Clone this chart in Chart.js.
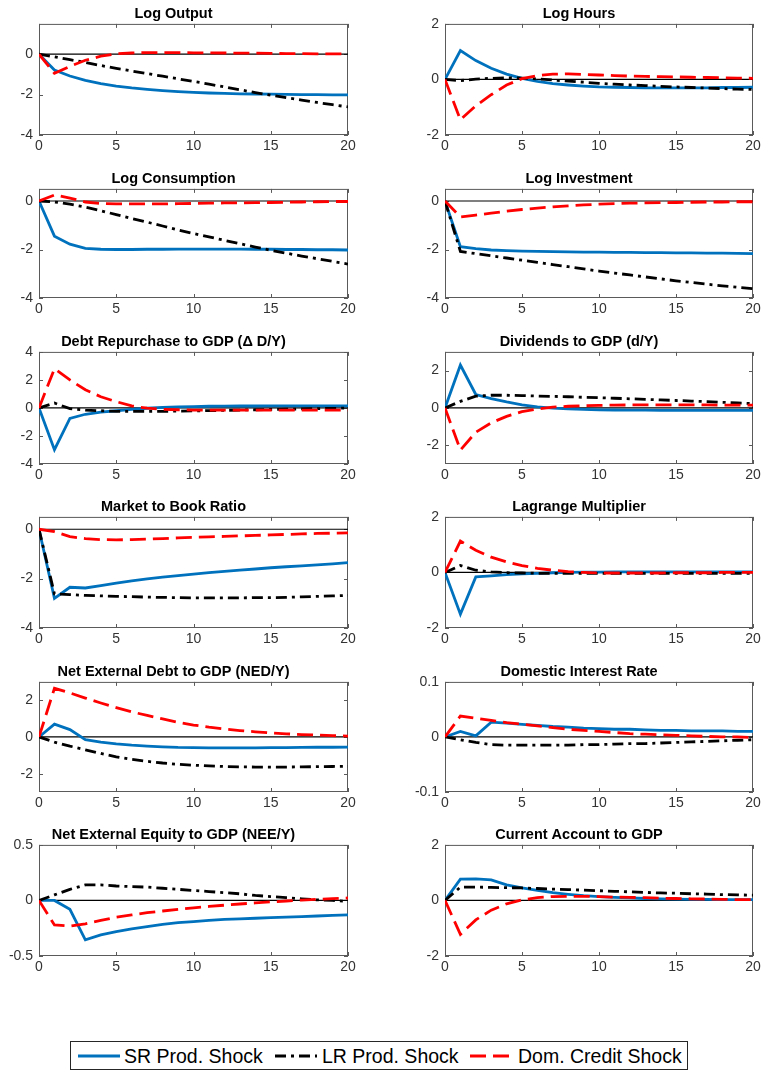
<!DOCTYPE html>
<html>
<head>
<meta charset="utf-8">
<title>Impulse responses</title>
<script src="https://cdn.jsdelivr.net/npm/chart.js@4.4.0/dist/chart.umd.min.js"></script>
<style>
  body { margin: 0; background: #fff; width: 762px; height: 1070px; position: relative; overflow: hidden;
         font-family: "Liberation Sans", Arial, sans-serif; }
  .panel { position: absolute; }
  #legend { position: absolute; left: 70px; top: 1041px; width: 618px; height: 29px;
            border: 1px solid #262626; box-sizing: border-box; background: #fff; }
  #legend span { position: absolute; top: 3px; font-size: 19.5px; line-height: 22px; color: #000; white-space: nowrap; }
  #legend svg { position: absolute; top: 0; }
</style>
</head>
<body>
<div id="legend"></div>
<script>
// horizon (quarters after the shock)
const horizon = [0, 1, 2, 3, 4, 5, 6, 7, 8, 9, 10, 11, 12, 13, 14, 15, 16, 17, 18, 19, 20];
const xTicks = [0, 5, 10, 15, 20];
const zeroLine = [0, 0, 0, 0, 0, 0, 0, 0, 0, 0, 0, 0, 0, 0, 0, 0, 0, 0, 0, 0, 0];

// Log Output
const outputSR = [0, -0.78, -1.08, -1.3, -1.46, -1.58, -1.67, -1.74, -1.8, -1.85, -1.89, -1.92, -1.94, -1.96, -1.97, -1.98, -1.99, -2.0, -2.0, -2.01, -2.01];
const outputLR = [0, -0.13, -0.27, -0.41, -0.56, -0.7, -0.83, -0.96, -1.09, -1.22, -1.35, -1.48, -1.62, -1.76, -1.9, -2.03, -2.15, -2.27, -2.39, -2.5, -2.61];
const outputDC = [0, -0.95, -0.6, -0.3, -0.1, 0.02, 0.06, 0.08, 0.08, 0.08, 0.07, 0.07, 0.06, 0.05, 0.05, 0.04, 0.03, 0.03, 0.02, 0.02, 0.01];

// Log Hours
const hoursSR = [0, 1.04, 0.68, 0.4, 0.19, 0.04, -0.07, -0.15, -0.2, -0.24, -0.27, -0.28, -0.29, -0.3, -0.3, -0.3, -0.3, -0.3, -0.29, -0.29, -0.28];
const hoursLR = [0, -0.04, 0.01, 0.04, 0.06, 0.05, 0.02, -0.02, -0.06, -0.1, -0.14, -0.17, -0.2, -0.22, -0.25, -0.27, -0.29, -0.31, -0.33, -0.35, -0.36];
const hoursDC = [0, -1.45, -0.95, -0.55, -0.2, 0.03, 0.14, 0.19, 0.2, 0.18, 0.16, 0.14, 0.12, 0.11, 0.1, 0.09, 0.08, 0.07, 0.06, 0.05, 0.04];

// Log Consumption
const consSR = [0, -1.45, -1.78, -1.95, -1.99, -2.0, -2.0, -1.99, -1.99, -1.98, -1.98, -1.98, -1.98, -1.98, -1.99, -1.99, -2.0, -2.0, -2.01, -2.01, -2.02];
const consLR = [0, -0.04, -0.13, -0.25, -0.4, -0.56, -0.72, -0.87, -1.03, -1.19, -1.34, -1.48, -1.62, -1.76, -1.9, -2.03, -2.15, -2.27, -2.38, -2.49, -2.6];
const consDC = [0, 0.25, 0.12, -0.04, -0.1, -0.12, -0.12, -0.12, -0.12, -0.11, -0.1, -0.09, -0.08, -0.08, -0.07, -0.06, -0.05, -0.04, -0.03, -0.02, -0.02];

// Log Investment
const invSR = [0, -1.88, -1.96, -2.02, -2.05, -2.07, -2.08, -2.09, -2.1, -2.11, -2.11, -2.12, -2.12, -2.13, -2.13, -2.14, -2.14, -2.15, -2.15, -2.16, -2.17];
const invLR = [0, -2.08, -2.17, -2.26, -2.35, -2.44, -2.53, -2.62, -2.71, -2.8, -2.89, -2.97, -3.05, -3.13, -3.21, -3.29, -3.36, -3.43, -3.5, -3.56, -3.62];
const invDC = [0, -0.66, -0.58, -0.5, -0.42, -0.35, -0.29, -0.24, -0.2, -0.16, -0.13, -0.11, -0.09, -0.08, -0.07, -0.06, -0.05, -0.04, -0.04, -0.03, -0.03];

// Debt Repurchase to GDP
const debtSR = [0, -2.98, -0.75, -0.45, -0.3, -0.2, -0.1, -0.02, 0.04, 0.08, 0.1, 0.12, 0.13, 0.14, 0.14, 0.15, 0.15, 0.15, 0.15, 0.15, 0.15];
const debtLR = [0, 0.35, -0.05, -0.15, -0.2, -0.24, -0.25, -0.25, -0.24, -0.23, -0.21, -0.19, -0.17, -0.15, -0.13, -0.11, -0.09, -0.07, -0.05, -0.03, -0.01];
const debtDC = [0, 2.8, 2.0, 1.3, 0.8, 0.45, 0.15, -0.02, -0.1, -0.13, -0.15, -0.16, -0.16, -0.16, -0.16, -0.16, -0.15, -0.15, -0.15, -0.15, -0.15];

// Dividends to GDP
const divSR = [0, 2.3, 0.72, 0.5, 0.32, 0.17, 0.06, -0.01, -0.05, -0.08, -0.1, -0.11, -0.12, -0.12, -0.13, -0.13, -0.13, -0.13, -0.13, -0.13, -0.13];
const divLR = [0, 0.35, 0.63, 0.68, 0.68, 0.66, 0.64, 0.62, 0.6, 0.57, 0.55, 0.52, 0.49, 0.46, 0.43, 0.4, 0.37, 0.34, 0.3, 0.27, 0.23];
const divDC = [0, -2.25, -1.3, -0.8, -0.45, -0.2, -0.05, 0.04, 0.09, 0.12, 0.14, 0.15, 0.16, 0.16, 0.16, 0.16, 0.16, 0.16, 0.15, 0.15, 0.15];

// Market to Book Ratio
const mbSR = [0, -2.8, -2.35, -2.38, -2.28, -2.18, -2.09, -2.01, -1.94, -1.88, -1.82, -1.76, -1.71, -1.66, -1.61, -1.56, -1.52, -1.48, -1.44, -1.4, -1.35];
const mbLR = [0, -2.62, -2.65, -2.68, -2.7, -2.72, -2.73, -2.75, -2.76, -2.77, -2.78, -2.78, -2.78, -2.78, -2.77, -2.77, -2.76, -2.74, -2.72, -2.7, -2.68];
const mbDC = [0, -0.1, -0.3, -0.38, -0.42, -0.43, -0.42, -0.4, -0.38, -0.35, -0.33, -0.31, -0.29, -0.27, -0.25, -0.23, -0.21, -0.19, -0.17, -0.16, -0.15];

// Lagrange Multiplier
const lagSR = [0, -1.5, -0.16, -0.12, -0.08, -0.05, -0.03, -0.01, 0, 0.01, 0.01, 0.02, 0.02, 0.02, 0.02, 0.02, 0.02, 0.02, 0.02, 0.02, 0.02];
const lagLR = [0, 0.25, 0.08, 0.02, -0.01, -0.02, -0.03, -0.03, -0.03, -0.03, -0.03, -0.03, -0.03, -0.03, -0.03, -0.03, -0.03, -0.03, -0.03, -0.03, -0.03];
const lagDC = [0, 1.13, 0.8, 0.55, 0.38, 0.25, 0.15, 0.08, 0.03, 0, -0.02, -0.02, -0.02, -0.02, -0.02, -0.01, -0.01, -0.01, 0, 0, 0];

// Net External Debt to GDP
const nedSR = [0, 0.7, 0.4, -0.15, -0.28, -0.38, -0.45, -0.5, -0.54, -0.57, -0.58, -0.59, -0.59, -0.59, -0.59, -0.58, -0.58, -0.57, -0.56, -0.56, -0.55];
const nedLR = [0, -0.28, -0.5, -0.7, -0.9, -1.08, -1.22, -1.33, -1.42, -1.49, -1.54, -1.58, -1.61, -1.63, -1.64, -1.64, -1.64, -1.63, -1.62, -1.61, -1.6];
const nedDC = [0, 2.65, 2.4, 2.12, 1.85, 1.6, 1.37, 1.17, 0.98, 0.8, 0.65, 0.53, 0.43, 0.35, 0.28, 0.22, 0.17, 0.13, 0.1, 0.07, 0.05];

// Domestic Interest Rate
const rateSR = [0, 0.01, 0.002, 0.027, 0.025, 0.023, 0.021, 0.019, 0.018, 0.016, 0.015, 0.014, 0.014, 0.013, 0.012, 0.012, 0.011, 0.011, 0.011, 0.01, 0.01];
const rateLR = [0, -0.005, -0.01, -0.014, -0.015, -0.015, -0.015, -0.015, -0.015, -0.014, -0.014, -0.013, -0.012, -0.012, -0.011, -0.01, -0.009, -0.008, -0.007, -0.006, -0.005];
const rateDC = [0, 0.038, 0.034, 0.03, 0.026, 0.023, 0.02, 0.017, 0.014, 0.012, 0.01, 0.008, 0.006, 0.005, 0.004, 0.003, 0.002, 0.001, 0, 0, -0.001];

// Net External Equity to GDP
const neeSR = [0, 0, -0.08, -0.355, -0.31, -0.28, -0.255, -0.235, -0.215, -0.2, -0.19, -0.18, -0.17, -0.165, -0.16, -0.155, -0.15, -0.145, -0.14, -0.135, -0.13];
const neeLR = [0, 0.05, 0.1, 0.14, 0.14, 0.13, 0.125, 0.12, 0.11, 0.1, 0.09, 0.08, 0.07, 0.06, 0.045, 0.035, 0.025, 0.015, 0.005, 0, -0.01];
const neeDC = [0, -0.22, -0.23, -0.21, -0.18, -0.15, -0.13, -0.11, -0.095, -0.08, -0.066, -0.054, -0.043, -0.032, -0.022, -0.013, -0.005, 0.003, 0.01, 0.016, 0.022];

// Current Account to GDP
const caSR = [0, 0.77, 0.78, 0.74, 0.56, 0.45, 0.36, 0.28, 0.22, 0.17, 0.14, 0.11, 0.09, 0.07, 0.06, 0.05, 0.04, 0.04, 0.03, 0.03, 0.03];
const caLR = [0, 0.48, 0.48, 0.47, 0.46, 0.45, 0.43, 0.41, 0.39, 0.37, 0.35, 0.33, 0.31, 0.29, 0.27, 0.26, 0.24, 0.23, 0.21, 0.2, 0.19];
const caDC = [0, -1.22, -0.7, -0.35, -0.12, 0.02, 0.1, 0.14, 0.15, 0.15, 0.14, 0.12, 0.11, 0.1, 0.08, 0.07, 0.06, 0.05, 0.04, 0.03, 0.03];

// panel titles, y ranges and y tick labels (row by row, left then right)
const titles = ['Log Output', 'Log Hours', 'Log Consumption', 'Log Investment',
  'Debt Repurchase to GDP (\u0394 D/Y)', 'Dividends to GDP (d/Y)', 'Market to Book Ratio', 'Lagrange Multiplier',
  'Net External Debt to GDP (NED/Y)', 'Domestic Interest Rate', 'Net External Equity to GDP (NEE/Y)', 'Current Account to GDP'];
const yRanges = [[-4, 1.5], [-2, 2], [-4, 0.5], [-4, 0.5], [-4, 4], [-3, 3], [-4, 0.5], [-2, 2], [-3, 3], [-0.1, 0.1], [-0.5, 0.5], [-2, 2]];
const yTicks = [[-4, -2, 0], [-2, 0, 2], [-4, -2, 0], [-4, -2, 0], [-4, -2, 0, 2, 4], [-2, 0, 2],
  [-4, -2, 0], [-2, 0, 2], [-2, 0, 2], [-0.1, 0, 0.1], [-0.5, 0, 0.5], [-2, 0, 2]];
const srSeries = [outputSR, hoursSR, consSR, invSR, debtSR, divSR, mbSR, lagSR, nedSR, rateSR, neeSR, caSR];
const lrSeries = [outputLR, hoursLR, consLR, invLR, debtLR, divLR, mbLR, lagLR, nedLR, rateLR, neeLR, caLR];
const dcSeries = [outputDC, hoursDC, consDC, invDC, debtDC, divDC, mbDC, lagDC, nedDC, rateDC, neeDC, caDC];

// layout of the plot areas (pixels)
const COL_LEFT = [39, 445];
const COL_W = [309, 308];
const ROW_TOP = [24, 189, 352, 517, 682, 845];
const ROW_H = [111, 109, 112, 111, 110, 111];
const PAD_L = 40, PAD_R = 14, PAD_T = 26, PAD_B = 24;

const FONT = '"Liberation Sans", Arial, sans-serif';
const styles = [
  { label: 'SR Prod. Shock', color: '#0072BD', dash: [] },
  { label: 'LR Prod. Shock', color: '#000000', dash: [11, 5, 3, 5] },
  { label: 'Dom. Credit Shock', color: '#FF0000', dash: [16, 7] }
];

// MATLAB-like box with inward tick marks on all four sides
const boxAxes = {
  id: 'boxAxes',
  beforeDatasetsDraw(chart) {
    const { ctx, chartArea: a, scales: { x, y } } = chart;
    ctx.save();
    ctx.strokeStyle = '#5a5a5a';
    ctx.lineWidth = 1;
    ctx.strokeRect(a.left + 0.5, a.top + 0.5, a.width - 1, a.height - 1);
    ctx.beginPath();
    x.ticks.forEach(t => {
      const px = Math.round(x.getPixelForValue(t.value)) + 0.5;
      ctx.moveTo(px, a.bottom); ctx.lineTo(px, a.bottom - 4);
      ctx.moveTo(px, a.top); ctx.lineTo(px, a.top + 4);
    });
    y.ticks.forEach(t => {
      const py = Math.round(y.getPixelForValue(t.value)) + 0.5;
      ctx.moveTo(a.left, py); ctx.lineTo(a.left + 4, py);
      ctx.moveTo(a.right, py); ctx.lineTo(a.right - 4, py);
    });
    ctx.stroke();
    ctx.restore();
  }
};

function toPoints(vals) {
  return horizon.map((h, i) => ({ x: h, y: vals[i] }));
}

function makePanel(i) {
  const col = i % 2, row = Math.floor(i / 2);
  const w = COL_W[col], h = ROW_H[row];
  const holder = document.createElement('div');
  holder.className = 'panel';
  holder.style.left = (COL_LEFT[col] - PAD_L) + 'px';
  holder.style.top = (ROW_TOP[row] - PAD_T) + 'px';
  const canvas = document.createElement('canvas');
  canvas.width = w + PAD_L + PAD_R;
  canvas.height = h + PAD_T + PAD_B;
  holder.appendChild(canvas);
  document.body.appendChild(holder);

  const lines = [srSeries[i], lrSeries[i], dcSeries[i]].map((vals, k) => ({
    label: styles[k].label,
    data: toPoints(vals),
    borderColor: styles[k].color,
    borderDash: styles[k].dash,
    borderWidth: 2.8,
    order: 3 - k
  }));
  lines.push({ label: 'zero', data: toPoints(zeroLine), borderColor: '#000', borderWidth: 1.2, order: 5 });

  new Chart(canvas, {
    type: 'line',
    data: { datasets: lines },
    plugins: [boxAxes],
    options: {
      responsive: false,
      animation: false,
      layout: { padding: { top: 7, right: PAD_R, left: 0, bottom: 0 } },
      elements: { point: { radius: 0 }, line: { tension: 0 } },
      plugins: {
        legend: { display: false },
        tooltip: { enabled: false },
        title: {
          display: true, text: titles[i], color: '#000',
          font: { family: FONT, size: 14.5, weight: 'bold' },
          padding: { top: 0, bottom: 1.5 }
        }
      },
      scales: {
        x: {
          type: 'linear', min: 0, max: 20,
          grid: { display: false, drawTicks: false },
          border: { display: false },
          ticks: { color: '#333', font: { family: FONT, size: 14 }, padding: 3, autoSkip: false, maxRotation: 0 },
          afterBuildTicks: s => { s.ticks = xTicks.map(v => ({ value: v })); },
          afterFit: s => { s.height = PAD_B; }
        },
        y: {
          min: yRanges[i][0], max: yRanges[i][1],
          grid: { display: false, drawTicks: false },
          border: { display: false },
          ticks: { color: '#333', font: { family: FONT, size: 14 }, padding: 6, callback: v => String(v) },
          afterBuildTicks: s => { s.ticks = yTicks[i].map(v => ({ value: v })); },
          afterFit: s => { s.width = PAD_L; }
        }
      }
    }
  });
}

for (let i = 0; i < titles.length; i++) makePanel(i);

// legend box at the bottom
const legendEl = document.getElementById('legend');
const legendPos = [{ line: 7, text: 53 }, { line: 204, text: 251 }, { line: 399, text: 447 }];
styles.forEach((s, k) => {
  const svg = document.createElementNS('http://www.w3.org/2000/svg', 'svg');
  svg.setAttribute('width', '42'); svg.setAttribute('height', '27');
  svg.style.left = legendPos[k].line + 'px';
  const ln = document.createElementNS('http://www.w3.org/2000/svg', 'line');
  ln.setAttribute('x1', '0'); ln.setAttribute('x2', '42');
  ln.setAttribute('y1', '14'); ln.setAttribute('y2', '14');
  ln.setAttribute('stroke', s.color); ln.setAttribute('stroke-width', '3');
  if (s.dash.length) ln.setAttribute('stroke-dasharray', s.dash.join(' '));
  svg.appendChild(ln);
  legendEl.appendChild(svg);
  const span = document.createElement('span');
  span.textContent = s.label;
  span.style.left = legendPos[k].text + 'px';
  legendEl.appendChild(span);
});
</script>
</body>
</html>
